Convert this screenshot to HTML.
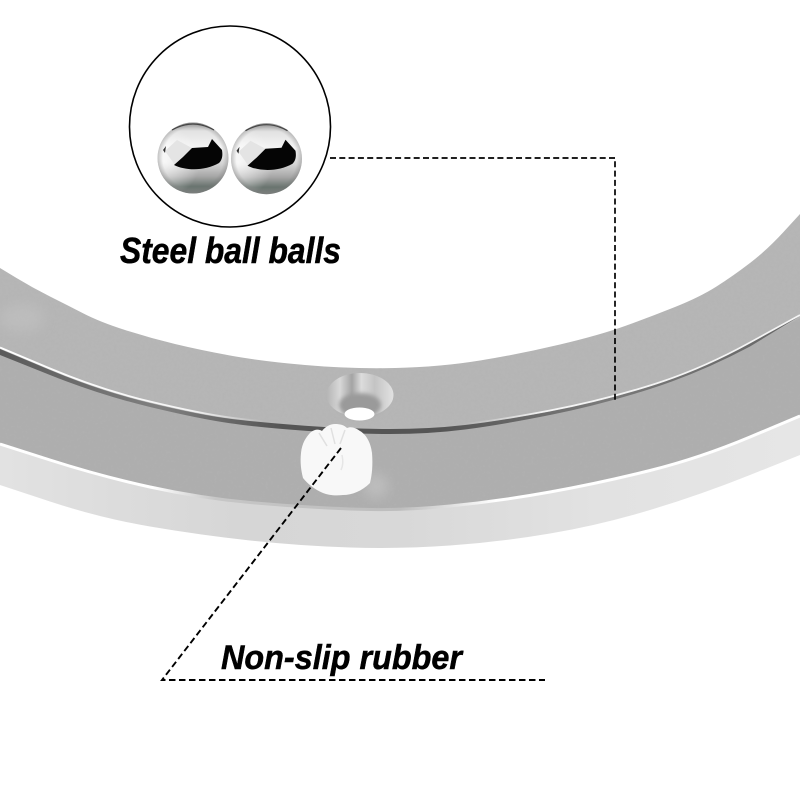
<!DOCTYPE html>
<html>
<head>
<meta charset="utf-8">
<style>
html,body{margin:0;padding:0;background:#fff;width:800px;height:800px;overflow:hidden}
svg{display:block}
text{font-family:"Liberation Sans",sans-serif;font-weight:bold;font-style:italic;fill:#000;stroke:#000;stroke-width:.5px}
</style>
</head>
<body>
<svg width="800" height="800" viewBox="0 0 800 800" xmlns="http://www.w3.org/2000/svg">
<defs>
<filter id="n" x="0" y="0" width="100%" height="100%">
<feTurbulence type="fractalNoise" baseFrequency="0.35" numOctaves="2" seed="4" result="t"/>
<feColorMatrix in="t" type="matrix" values="0 0 0 0 0.45  0 0 0 0 0.45  0 0 0 0 0.45  0.5 0.5 0 0 -0.42" result="d"/>
<feComposite in="d" in2="SourceAlpha" operator="in" result="c"/>
<feMerge><feMergeNode in="SourceGraphic"/><feMergeNode in="c"/></feMerge>
</filter>
<filter id="bl" x="-30%" y="-30%" width="160%" height="160%"><feGaussianBlur stdDeviation="2"/></filter>
<filter id="bs" x="-30%" y="-30%" width="160%" height="160%"><feGaussianBlur stdDeviation="6"/></filter>
<linearGradient id="side" x1="0" y1="0" x2="1" y2="0">
<stop offset="0" stop-color="#e2e2e2"/><stop offset=".3" stop-color="#d6d6d6"/><stop offset=".5" stop-color="#d8d8d8"/><stop offset=".75" stop-color="#e2e2e2"/><stop offset="1" stop-color="#e6e6e6"/>
</linearGradient>
<linearGradient id="strip" gradientUnits="userSpaceOnUse" x1="0" y1="0" x2="800" y2="0">
<stop offset="0" stop-color="#fff"/><stop offset=".19" stop-color="#fff"/><stop offset=".27" stop-color="#c6c6c6"/><stop offset=".5" stop-color="#bdbdbd"/><stop offset=".62" stop-color="#fff"/><stop offset="1" stop-color="#fff"/>
</linearGradient>
<linearGradient id="gr" gradientUnits="userSpaceOnUse" x1="0" y1="0" x2="800" y2="0">
<stop offset="0" stop-color="#5a5a5a"/><stop offset=".2" stop-color="#808080"/><stop offset=".35" stop-color="#555"/><stop offset=".55" stop-color="#555"/><stop offset=".75" stop-color="#7a7a7a"/><stop offset="1" stop-color="#666"/>
</linearGradient>
<linearGradient id="hl" gradientUnits="userSpaceOnUse" x1="0" y1="0" x2="800" y2="0">
<stop offset="0" stop-color="#fff"/><stop offset=".24" stop-color="#f4f4f4"/><stop offset=".33" stop-color="#b6b6b6"/><stop offset=".58" stop-color="#b6b6b6"/><stop offset=".68" stop-color="#f4f4f4"/><stop offset="1" stop-color="#f4f4f4"/>
</linearGradient>
<linearGradient id="ball" x1="0" y1="0" x2="0" y2="1">
<stop offset="0" stop-color="#9a9a9a"/><stop offset=".12" stop-color="#e2e2e2"/><stop offset=".35" stop-color="#f4f4f4"/><stop offset=".58" stop-color="#d4d4d4"/><stop offset=".76" stop-color="#a6a6a6"/><stop offset=".9" stop-color="#69746f"/><stop offset="1" stop-color="#7d8280"/>
</linearGradient>
<radialGradient id="ballL" cx=".1" cy=".55" r=".5">
<stop offset="0" stop-color="#fff" stop-opacity=".8"/><stop offset="1" stop-color="#fff" stop-opacity="0"/>
</radialGradient>
<radialGradient id="rim" cx=".5" cy=".5" r=".5">
<stop offset=".85" stop-color="#777" stop-opacity="0"/><stop offset="1" stop-color="#777" stop-opacity=".4"/>
</radialGradient>
<linearGradient id="csk" x1="0" y1="0" x2="1" y2="0">
<stop offset="0" stop-color="#b4b4b4"/><stop offset=".2" stop-color="#d8d8d8"/><stop offset=".38" stop-color="#a4a4a4"/><stop offset=".52" stop-color="#dcdcdc"/><stop offset=".72" stop-color="#c4c4c4"/><stop offset="1" stop-color="#e2e2e2"/>
</linearGradient>
<g id="b">
<circle cx="193" cy="158" r="35.5" fill="url(#ball)"/>
<circle cx="193" cy="158" r="35.5" fill="url(#ballL)"/>
<circle cx="193" cy="158" r="35.5" fill="url(#rim)"/>
<polygon points="177,140 192,148 175,165 165,151" fill="#e4e4e4"/>
<polygon points="163,150 166,146 165,153" fill="#333"/>
<path d="M174 165 L183 157 L192 148 L208 147 L212 139 L222 150 C223 156 222 160 219 163 C205 171 186 171 174 165Z" fill="#050505"/>
<path d="M172 130 Q193 118 214 130" fill="none" stroke="#444" stroke-width="1.200"/>
</g>
</defs>

<rect width="800" height="800" fill="#fff"/>

<!-- side band -->
<path d="M0 485 L50 501.5 Q100 518 150 526.5 Q200 535 250 540.5 Q300 546 350 547.5 Q400 549 450 545.5 Q500 542 550 533.5 Q600 525 650 510 Q700 495 750 475 L800 455 V0 H0Z" fill="url(#side)"/>
<!-- lower top surface -->
<path d="M0 443 L50 459 Q100 475 150 486 Q200 497 250 501.5 Q300 506 350 508 Q400 510 450 505 Q500 500 550 491 Q600 482 650 469.5 Q700 457 750 436 L800 415 V0 H0Z" fill="#aeaeae" filter="url(#n)"/>
<!-- edge highlight -->
<path d="M0 444 L50 460 Q100 476 150 487 Q200 498 250 502.500 Q300 507 350 509 Q400 511 450 506 Q500 501 550 492 Q600 483 650 470.500 Q700 458 750 437 L800 416" fill="none" stroke="url(#strip)" stroke-width="3"/>
<!-- upper ring -->
<path d="M0 353 L50 373.5 Q100 394 150 406 Q200 418 230 422 Q260 426 305 429 Q350 432 390 432 Q430 432 465 427.5 Q500 423 550 413.5 Q600 404 650 388 Q700 372 750 345 L800 318 V0 H0Z" fill="#b6b6b6" filter="url(#n)"/>
<!-- faint stamp -->
<ellipse cx="22" cy="318" rx="22" ry="14" fill="#c4c4c4" opacity=".5" filter="url(#bs)"/>
<!-- groove highlight -->
<path d="M0 347.500 L50 368.500 Q100 389.500 150 401.500 Q200 413.500 230 417.500 Q260 421.500 305 424.750 Q350 428 390 428 Q430 428 465 424 Q500 420 550 410.500 Q600 401 650 385.500 Q700 370 750 342.500 L800 315" fill="none" stroke="url(#hl)" stroke-width="1.800"/>
<!-- groove -->
<path d="M0 349 L50 370 Q100 391 150 403 Q200 415 230 418.750 Q260 422.500 305 425.750 Q350 429 390 429 Q430 429 465 425 Q500 421 550 411.500 Q600 402 650 386.500 Q700 371 750 343.500 L800 316 L750 346.500 Q700 373 650 389 Q600 405 550 415 Q500 425 465 429.500 Q430 434 390 434 Q350 434 305 430.750 Q260 427.500 230 423.250 Q200 419 150 407 Q100 395 50 375 L0 355Z" fill="url(#gr)"/>
<!-- white interior -->
<path d="M0 268 L16.500 278 Q33 288 50 296.500 Q67 305 83.500 313.500 Q100 322 125 330 Q150 338 175 344 Q200 350 230 355.500 Q260 361 305 365 Q350 369 395 368 Q440 367 480 360.500 Q520 354 560 344.500 Q600 335 625 326 Q650 317 675 307 Q700 297 716.500 286.500 Q733 276 750 263 Q767 250 783.500 232 L800 214 V0 H0Z" fill="#fff"/>

<!-- screw hole -->
<ellipse cx="360" cy="395" rx="33.500" ry="22" fill="url(#csk)"/>
<ellipse cx="360" cy="405" rx="21" ry="12" fill="#9a9a9a" filter="url(#bl)"/>
<ellipse cx="359.500" cy="414" rx="15" ry="6.500" fill="#fff"/>

<!-- light glow beside foot -->
<ellipse cx="376" cy="486" rx="12" ry="12" fill="#c8c8c8" opacity=".6" filter="url(#bs)"/>

<!-- rubber foot -->
<path d="M301 453 C302 443 306 437 311 432 C315 429 319 429 322 431 C325 427 330 424 335 424 C340 424 344 425 347 428 C351 426 356 428 360 431 C367 435 371 444 372 453 C373 465 372 475 370 483 C362 491 352 495 343 495 C335 496 328 495 323 493 C314 489 308 484 303 478 C301 470 300 462 301 453Z" fill="#f8f8f8"/>
<path d="M319 433 L327 446 M331 428 L335 444 M345 430 L340 444" fill="none" stroke="#e0e0e0" stroke-width="1.500"/>
<path d="M342 455 Q344 464 341 470" fill="none" stroke="#e6e6e6" stroke-width="1.500"/>

<!-- circle + balls -->
<circle cx="230" cy="126.500" r="100.500" fill="#fff" stroke="#000" stroke-width="1.600"/>
<use href="#b"/>
<use href="#b" x="73.500" y="0.700"/>

<!-- leaders -->
<path d="M330 158 H615 V402" fill="none" stroke="#000" stroke-width="1.700" stroke-dasharray="6 3.300"/>
<path d="M341 448 L162 680 H545" fill="none" stroke="#000" stroke-width="1.900" stroke-dasharray="6.500 3.500"/>

<!-- labels -->
<text x="120" y="263" font-size="36" textLength="221" lengthAdjust="spacingAndGlyphs">Steel ball balls</text>
<text x="221" y="669" font-size="34" textLength="241" lengthAdjust="spacingAndGlyphs">Non-slip rubber</text>
</svg>
</body>
</html>
